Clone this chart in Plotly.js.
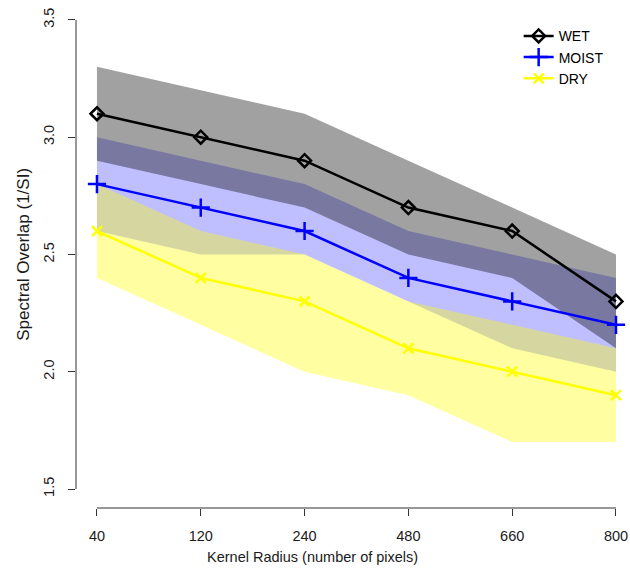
<!DOCTYPE html>
<html>
<head>
<meta charset="utf-8">
<script src="https://cdn.plot.ly/plotly-3.0.1.min.js"></script>
<style>html,body{margin:0;padding:0;background:#fff;}#chart{width:630px;height:570px;}</style>
</head>
<body>
<div id="chart"></div>
<script>
// Categories (kernel radius, pixels)
const radiusLabels = ["40", "120", "240", "480", "660", "800"];

// Mean spectral overlap per moisture class
const wetMean   = [3.1, 3.0, 2.9, 2.7, 2.6, 2.3];
const moistMean = [2.8, 2.7, 2.6, 2.4, 2.3, 2.2];
const dryMean   = [2.6, 2.4, 2.3, 2.1, 2.0, 1.9];

// Band limits (upper / lower)
const wetUpper   = [3.3, 3.2, 3.1, 2.9, 2.7, 2.5];
const wetLower   = [2.9, 2.8, 2.7, 2.5, 2.4, 2.1];
const moistUpper = [3.0, 2.9, 2.8, 2.6, 2.5, 2.4];
const moistLower = [2.6, 2.5, 2.5, 2.3, 2.1, 2.0];
const dryUpper   = [2.8, 2.6, 2.5, 2.3, 2.2, 2.1];
const dryLower   = [2.4, 2.2, 2.0, 1.9, 1.7, 1.7];

const yTicks = [1.5, 2.0, 2.5, 3.0, 3.5];

const idx = radiusLabels.map((_, i) => i);
const FONT = "Liberation Sans, Arial, sans-serif";

function band(upper, lower, color) {
  return {
    x: idx.concat(idx.slice().reverse()),
    y: upper.concat(lower.slice().reverse()),
    type: "scatter", mode: "none", fill: "toself",
    fillcolor: color, line: {width: 0},
    showlegend: false, hoverinfo: "skip"
  };
}

const traces = [
  band(moistUpper, moistLower, "rgba(0,0,255,0.25)"),
  band(dryUpper, dryLower, "rgba(255,255,0,0.37)"),
  band(wetUpper, wetLower, "rgba(0,0,0,0.37)"),
  {x: idx, y: wetMean, name: "WET", type: "scatter", mode: "lines+markers",
   line: {color: "#000000", width: 2.5},
   marker: {symbol: "diamond-open", size: 10, color: "#000000", line: {width: 2.5, color: "#000000"}}},
  {x: idx, y: moistMean, name: "MOIST", type: "scatter", mode: "lines+markers",
   line: {color: "#0000FF", width: 2.5},
   marker: {symbol: "cross-thin-open", size: 13, color: "#0000FF", line: {width: 2.5, color: "#0000FF"}}},
  {x: idx, y: dryMean, name: "DRY", type: "scatter", mode: "lines+markers",
   line: {color: "#FFFF00", width: 2.5},
   marker: {symbol: "x-thin-open", size: 10, color: "#FFFF00", line: {width: 2.5, color: "#FFFF00"}}}
];

const layout = {
  width: 630, height: 570,
  margin: {l: 76, r: 0, t: 0, b: 62, pad: 0},
  paper_bgcolor: "#ffffff", plot_bgcolor: "#ffffff",
  font: {family: FONT, size: 14.5, color: "#1a1a1a"},
  showlegend: true,
  legend: {x: 0.799, y: 0.96, xanchor: "left", yanchor: "top",
           bgcolor: "rgba(0,0,0,0)", borderwidth: 0,
           font: {family: FONT, size: 14, color: "#000"}, tracegroupgap: 0},
  xaxis: {
    range: [-0.202, 5.135], tickmode: "array", tickvals: idx, ticktext: radiusLabels,
    showgrid: false, zeroline: false, showline: false,
    ticks: "outside", ticklen: 7, tickwidth: 1, tickcolor: "#333",
    ticklabelstandoff: 8,
    tickfont: {family: FONT, size: 14.5, color: "#1a1a1a"}
  },
  yaxis: {
    range: [1.419, 3.585], tickmode: "array", tickvals: yTicks,
    ticktext: yTicks.map(v => v.toFixed(1)),
    showgrid: false, zeroline: false, showline: false,
    ticks: "outside", ticklen: 7, tickwidth: 1, tickcolor: "#333",
    tickangle: -90, ticklabelstandoff: 8,
    tickfont: {family: FONT, size: 14.5, color: "#1a1a1a"}
  },
  shapes: [
    {type: "line", xref: "paper", yref: "y", x0: 0, x1: 0, y0: yTicks[0], y1: yTicks[yTicks.length - 1],
     line: {color: "#333", width: 1}},
    {type: "line", xref: "x", yref: "paper", x0: 0, x1: idx.length - 1, y0: 0, y1: 0,
     line: {color: "#333", width: 1}}
  ],
  annotations: [
    {text: "Kernel Radius (number of pixels)", xref: "paper", yref: "paper",
     x: 0.426, y: -0.0965, xanchor: "center", yanchor: "middle", showarrow: false,
     font: {family: FONT, size: 14.5, color: "#1a1a1a"}},
    {text: "Spectral Overlap (1/SI)", xref: "paper", yref: "y",
     x: -0.095, y: 2.5, xanchor: "center", yanchor: "middle", textangle: -90, showarrow: false,
     font: {family: FONT, size: 17, color: "#1a1a1a"}}
  ]
};

Plotly.newPlot("chart", traces, layout, {displayModeBar: false, staticPlot: true});
</script>
</body>
</html>
